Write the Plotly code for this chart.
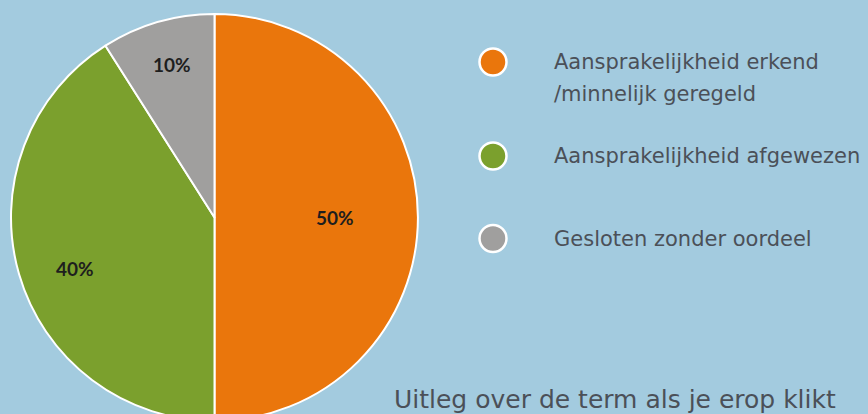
import math
import plotly.graph_objects as go

# ---- data ----
categories = ["Aansprakelijkheid erkend<br>/minnelijk geregeld",
              "Aansprakelijkheid afgewezen",
              "Gesloten zonder oordeel"]
values = [50, 41, 9]              # slice sizes as drawn in the picture
pct_labels = ["50%", "40%", "10%"]  # labels as printed on the slices
slice_colors = ["#EA760C", "#7BA02D", "#A09F9E"]
footer_text = "Uitleg over de term als je erop klikt"

# ---- layout constants (pixels) ----
W, H = 868, 421
BG = "#A3CBDF"
TEXT = "#4B5058"
CX, CY, R = 214.5, 217.5, 203.5
label_rfrac = [0.59, 0.73, 0.78]
label_dangle = [0.0, -4.0, 0.5]   # degrees
legend_x_marker = 493
legend_x_text = 552
legend_y = [62, 156, 238.5]
line_gap = 32

fig = go.Figure()

fig.add_trace(go.Pie(
    labels=categories,
    values=values,
    sort=False,
    direction="clockwise",
    rotation=0,
    marker=dict(colors=slice_colors, line=dict(color="white", width=2)),
    textinfo="none",
    domain=dict(x=[(CX - R) / W, (CX + R) / W], y=[0, 1 - (CY - R) / H]),
    showlegend=False,
    hoverinfo="skip",
))

# slice labels placed near each slice's mid-angle
total = sum(values)
cum = 0
for v, lab, rf, da in zip(values, pct_labels, label_rfrac, label_dangle):
    mid = (cum + v / 2) / total * 2 * math.pi + math.radians(da)
    cum += v
    fig.add_annotation(
        x=CX + rf * R * math.sin(mid), y=CY - rf * R * math.cos(mid),
        xref="x", yref="y", text=f"<b>{lab}</b>", showarrow=False,
        xanchor="center", yanchor="middle",
        font=dict(family="Lato", size=19, color="#1E1E1E", weight=900),
    )

# legend markers
fig.add_trace(go.Scatter(
    x=[legend_x_marker] * len(categories),
    y=legend_y,
    mode="markers",
    marker=dict(size=27, color=slice_colors, line=dict(color="white", width=2.5)),
    showlegend=False,
    hoverinfo="skip",
))

for lab, yy in zip(categories, legend_y):
    for k, line in enumerate(lab.split("<br>")):
        fig.add_annotation(
            x=legend_x_text, y=yy + k * line_gap, xref="x", yref="y",
            text=line, showarrow=False, xanchor="left", yanchor="middle",
            font=dict(family="DejaVu Sans", size=21, color=TEXT),
        )

fig.add_annotation(
    x=392, y=399, xref="x", yref="y", text=footer_text, showarrow=False,
    xanchor="left", yanchor="middle",
    font=dict(family="DejaVu Sans", size=25, color=TEXT),
)

fig.update_layout(
    width=W, height=H,
    margin=dict(l=0, r=0, t=0, b=0),
    paper_bgcolor=BG, plot_bgcolor="rgba(0,0,0,0)",
    xaxis=dict(range=[0, W], visible=False, fixedrange=True),
    yaxis=dict(range=[H, 0], visible=False, fixedrange=True),
)

fig.write_html(
    "out.html",
    config={"displayModeBar": False},
    post_script="document.body.style.margin='0';document.body.style.overflow='hidden';",
)
